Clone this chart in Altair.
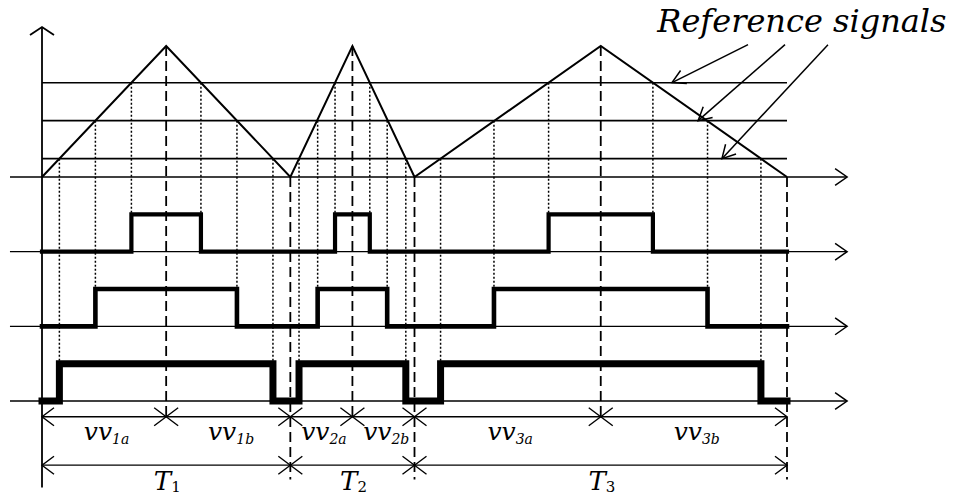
import altair as alt
import pandas as pd

# ---------------- data (time in arbitrary units, carrier amplitude normalised to 1)
PERIOD_EDGES = [0, 10, 15, 30]              # T1 | T2 | T3 boundaries
PEAKS = [5, 12.5, 22.5]                     # carrier peaks (split vv_a / vv_b)
CARRIER_T = [0, 5, 10, 12.5, 15, 22.5, 30]
CARRIER_V = [0, 1, 0, 1, 0, 1, 0]
REF_LEVELS = [0.72, 0.43, 0.14]             # three reference signals
EDGES_ROW1 = [3.6, 6.4, 11.8, 13.2, 20.4, 24.6]
EDGES_ROW2 = [2.15, 7.85, 11.1, 13.9, 18.2, 26.8]
EDGES_ROW3 = [0.7, 9.3, 10.35, 14.65, 16.05, 28.95]
VV_MAIN = ["vv", "vv", "vv", "vv", "vv", "vv"]
VV_SUBS = ["1a", "1b", "2a", "2b", "3a", "3b"]
T_MAIN = ["T", "T", "T"]
T_SUBS = ["1", "2", "3"]
REF_TITLE = "Reference signals"
ARROW_START_T = [28.43, 29.92, 31.65]
ARROW_START_V = [1.01, 1.01, 1.01]
ARROW_END_T = [25.37, 26.42, 27.38]

# ---------------- layout / style
ROW_BASE = [-0.57, -1.14, -1.71]
PULSE_H = 0.285
ROW_WIDTHS = [4.2, 4.6, 7]
VV_Y = -1.83
T_Y = -2.20
AXIS_TOP = 1.145
AXIS_BOTTOM = -2.37
DASH_BOTTOM = -2.31
AXIS_X0 = -1.29
AXIS_X1 = 32.42
TITLE_T, TITLE_V = 30.6, 1.107
ARROW_ANGLES = [154, 139, 133]
FONT = "DejaVu Serif"

xs = alt.Scale(domain=[-1.6913, 37.2886], nice=False, zero=False)
ys = alt.Scale(domain=[-2.4427, 1.3511], nice=False, zero=False)


def X(f):
    return alt.X(f"{f}:Q", scale=xs, axis=None)


def Y(f):
    return alt.Y(f"{f}:Q", scale=ys, axis=None)


def rules(rows, **kw):
    df = pd.DataFrame(rows, columns=["x", "x2", "y", "y2"])
    return alt.Chart(df).mark_rule(color="black", **kw).encode(
        x=X("x"), x2="x2", y=Y("y"), y2="y2")


def points(rows, shape, size, **kw):
    df = pd.DataFrame(rows, columns=["x", "y"])
    return alt.Chart(df).mark_point(shape=shape, size=size, filled=False,
                                    stroke="black", opacity=1, **kw).encode(
        x=X("x"), y=Y("y"))


layers = []

# carrier triangles
tri = pd.DataFrame({"t": CARRIER_T, "v": CARRIER_V, "o": range(len(CARRIER_T))})
layers.append(alt.Chart(tri).mark_line(color="black", strokeWidth=2).encode(
    x=X("t"), y=Y("v"), order="o:Q"))

# reference levels
t0, t1 = PERIOD_EDGES[0], PERIOD_EDGES[-1]
layers.append(rules([(t0, t1, l, l) for l in REF_LEVELS], strokeWidth=1.6))

# time axes (carrier baseline + three pulse rows)
axes_y = [0] + ROW_BASE
layers.append(rules([(AXIS_X0, AXIS_X1, yv, yv) for yv in axes_y], strokeWidth=1.4))
layers.append(points([(AXIS_X1, yv) for yv in axes_y], "M-1,-0.7L0,0L-1,0.7", 576, strokeWidth=1.5))

# vertical axis
layers.append(rules([(0, 0, AXIS_BOTTOM, AXIS_TOP)], strokeWidth=1.8))
layers.append(points([(0, AXIS_TOP)], "M-1,0.67L0,0L1,0.67", 576, strokeWidth=1.8))

# dotted projection lines
edges = [EDGES_ROW1, EDGES_ROW2, EDGES_ROW3]
dot_rows = []
for i, ev in enumerate(edges):
    for e in ev:
        dot_rows.append((e, e, REF_LEVELS[i], ROW_BASE[i] + PULSE_H))
layers.append(rules(dot_rows, strokeWidth=1.5, strokeDash=[2, 2]))

# dashed lines: peaks and valleys
dash_rows = [(p, p, 1, VV_Y) for p in PEAKS]
dash_rows += [(v, v, 0, DASH_BOTTOM) for v in PERIOD_EDGES[1:]]
layers.append(rules(dash_rows, strokeWidth=1.8, strokeDash=[10, 5]))

# pulse waveforms
pulse = []
for i, ev in enumerate(edges):
    lo, hi = ROW_BASE[i], ROW_BASE[i] + PULSE_H
    seq = 0
    state = lo
    pulse.append((t0, state, i, seq, ROW_WIDTHS[i]))
    for e in ev:
        seq += 1
        pulse.append((e, state, i, seq, ROW_WIDTHS[i]))
        state = hi if state == lo else lo
        seq += 1
        pulse.append((e, state, i, seq, ROW_WIDTHS[i]))
    seq += 1
    pulse.append((t1, state, i, seq, ROW_WIDTHS[i]))
pdf = pd.DataFrame(pulse, columns=["t", "v", "row", "seq", "w"])
layers.append(alt.Chart(pdf).mark_line(color="black", strokeJoin="miter", strokeCap="square").encode(
    x=X("t"), y=Y("v"), detail="row:N", order="seq:Q",
    strokeWidth=alt.StrokeWidth("w:Q", scale=None)))

# brackets
layers.append(rules([(t0, t1, VV_Y, VV_Y), (t0, t1, T_Y, T_Y)], strokeWidth=1.3))
layers.append(points([(t0, VV_Y), (t0, T_Y)], "M1,-0.75L0,0L1,0.75", 576, strokeWidth=1.4))
layers.append(points([(t1, VV_Y), (t1, T_Y)], "M-1,-0.75L0,0L-1,0.75", 576, strokeWidth=1.4))
xmarks = [(p, VV_Y) for p in sorted(PEAKS + PERIOD_EDGES[1:-1])]
xmarks += [(p, T_Y) for p in PERIOD_EDGES[1:-1]]
layers.append(points(xmarks, "M-1,-0.75L1,0.75M-1,0.75L1,-0.75", 576, strokeWidth=1.4))

# vv labels
bounds = sorted(PERIOD_EDGES + PEAKS)
vv_mid = [(a + b) / 2 for a, b in zip(bounds[:-1], bounds[1:])]
vvdf = pd.DataFrame({"t": vv_mid, "y": VV_Y, "m": VV_MAIN, "s": VV_SUBS})
layers.append(alt.Chart(vvdf).mark_text(align="right", baseline="alphabetic", dx=8, dy=23,
                                        font=FONT, fontStyle="italic", fontSize=25, color="black").encode(
    x=X("t"), y=Y("y"), text="m:N"))
layers.append(alt.Chart(vvdf).mark_text(align="left", baseline="alphabetic", dx=8, dy=27,
                                        font=FONT, fontStyle="italic", fontSize=14, color="black").encode(
    x=X("t"), y=Y("y"), text="s:N"))

# T labels
t_mid = [(a + b) / 2 for a, b in zip(PERIOD_EDGES[:-1], PERIOD_EDGES[1:])]
tdf = pd.DataFrame({"t": t_mid, "y": T_Y, "m": T_MAIN, "s": T_SUBS})
layers.append(alt.Chart(tdf).mark_text(align="right", baseline="alphabetic", dx=5, dy=25,
                                       font=FONT, fontStyle="italic", fontSize=26, color="black").encode(
    x=X("t"), y=Y("y"), text="m:N"))
layers.append(alt.Chart(tdf).mark_text(align="left", baseline="alphabetic", dx=5, dy=27,
                                       font=FONT, fontSize=15, color="black").encode(
    x=X("t"), y=Y("y"), text="s:N"))

# reference-signal annotation
layers.append(alt.Chart(pd.DataFrame({"t": [TITLE_T], "v": [TITLE_V], "s": [REF_TITLE]})).mark_text(
    align="center", baseline="alphabetic", font=FONT, fontStyle="italic", fontSize=32, color="black").encode(
    x=X("t"), y=Y("v"), text="s:N"))
layers.append(rules([(a, b, c, d) for a, b, c, d in zip(ARROW_START_T, ARROW_END_T, ARROW_START_V, REF_LEVELS)],
                    strokeWidth=1.5))
adf = pd.DataFrame({"x": ARROW_END_T, "y": REF_LEVELS, "a": ARROW_ANGLES})
layers.append(alt.Chart(adf).mark_point(shape="M-1,-0.55L0,0L-1,0.55", size=676, filled=False,
                                        stroke="black", strokeWidth=1.5, opacity=1).encode(
    x=X("x"), y=Y("y"), angle=alt.Angle("a:Q", scale=None)))

chart = alt.layer(*layers).properties(
    width=968, height=497, padding=0, background="white",
    autosize=alt.AutoSizeParams(type="none"),
).configure_view(stroke=None)

chart.save("out.html", embed_options={"renderer": "svg", "actions": False})
